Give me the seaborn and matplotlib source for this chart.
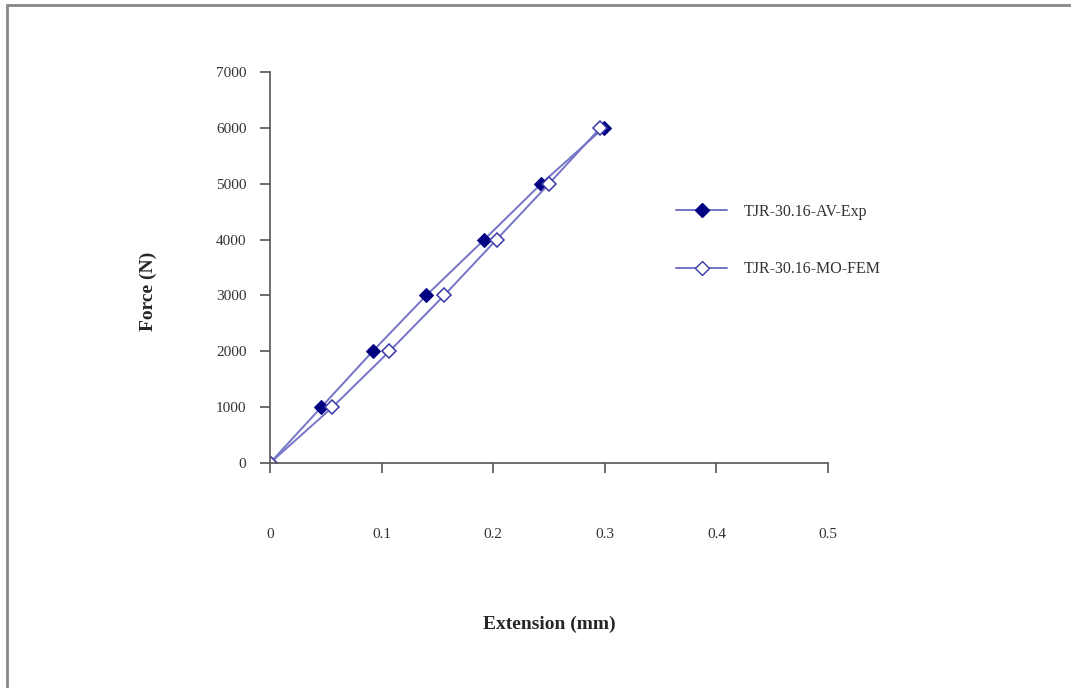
import matplotlib
matplotlib.use("Agg")
import matplotlib.pyplot as plt
import seaborn as sns
import pandas as pd
from matplotlib.lines import Line2D

# Data
force = [0, 1000, 2000, 3000, 4000, 5000, 6000]
ext_exp = [0, 0.046, 0.092, 0.140, 0.192, 0.243, 0.299]
ext_fem = [0, 0.056, 0.107, 0.156, 0.203, 0.250, 0.296]
labels = ["TJR-30.16-AV-Exp", "TJR-30.16-MO-FEM"]

sns.set_style("white")
plt.rcParams["font.family"] = ["Liberation Serif", "DejaVu Serif"]

df_exp = pd.DataFrame({"ext": ext_exp, "force": force})
df_fem = pd.DataFrame({"ext": ext_fem, "force": force})

fig = plt.figure(figsize=(10.71, 6.88), dpi=100)
ax = fig.add_axes([0.2521, 0.327, 0.5210, 0.5683])

line_col = "#7474c8"
navy = "#000080"

sns.lineplot(data=df_exp, x="ext", y="force", ax=ax, color=line_col, lw=1.4,
             marker="D", markersize=7, markerfacecolor=navy,
             markeredgecolor=navy, sort=False)
sns.lineplot(data=df_fem, x="ext", y="force", ax=ax, color=line_col, lw=1.4,
             marker="D", markersize=7, markerfacecolor="white",
             markeredgecolor="#3838a8", markeredgewidth=1.1, sort=False)

ax.set_xlim(0, 0.5)
ax.set_ylim(0, 7000)
ax.set_xticks([0, 0.1, 0.2, 0.3, 0.4, 0.5])
ax.set_xticklabels(["0", "0.1", "0.2", "0.3", "0.4", "0.5"])
ax.set_yticks(range(0, 7001, 1000))

for side in ["top", "right"]:
    ax.spines[side].set_visible(False)
for side in ["left", "bottom"]:
    ax.spines[side].set_color("#555555")
    ax.spines[side].set_linewidth(1.2)

ax.tick_params(axis="both", bottom=True, left=True, direction="out",
               length=7, width=1.2, color="#555555", labelcolor="#333333",
               labelsize=11)
ax.tick_params(axis="x", pad=40)
ax.tick_params(axis="y", pad=10)

ax.set_xlabel("Extension (mm)", fontsize=14, fontweight="bold")
ax.set_ylabel("Force (N)", fontsize=14, fontweight="bold")
ax.xaxis.set_label_coords(0.5, -0.391)
ax.yaxis.set_label_coords(-0.2025, 0.44)

handles = [
    Line2D([], [], color=line_col, lw=1.4, marker="D", markersize=7,
           markerfacecolor=navy, markeredgecolor=navy),
    Line2D([], [], color=line_col, lw=1.4, marker="D", markersize=7,
           markerfacecolor="white", markeredgecolor="#3838a8"),
]
fig.legend(handles, labels, loc="upper left", bbox_to_anchor=(0.618, 0.725),
           frameon=False, fontsize=11.5, handlelength=3.2, labelspacing=2.6,
           handletextpad=1.0, labelcolor="#333333")

# figure border (top and left edges only)
fig.add_artist(Line2D([0.0065, 1.0], [0.9925, 0.9925], color="#888888", lw=2,
                      transform=fig.transFigure))
fig.add_artist(Line2D([0.0065, 0.0065], [0.0, 0.9925], color="#888888", lw=2,
                      transform=fig.transFigure))

fig.savefig("out.png", dpi=100)
